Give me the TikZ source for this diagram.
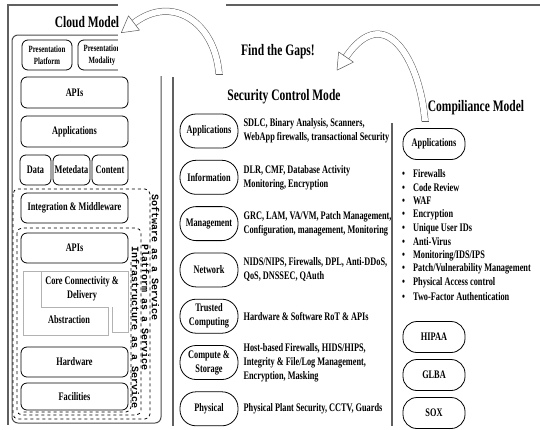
\documentclass[tikz,border=0pt]{standalone}
\usepackage{fontspec}
\setmainfont{Liberation Serif}[FakeStretch=0.72]
\setmonofont{Liberation Mono}
\usetikzlibrary{positioning}

\begin{document}
\begin{tikzpicture}[
  x=1pt, y=-1pt,
  node distance=11.5pt,
  every node/.style={align=center, inner sep=1pt, font=\bfseries\fontsize{11.5}{14}\selectfont},
  heading/.style={font=\bfseries\fontsize{16}{18}\selectfont},
  tier/.style={draw, line width=0.8pt, rounded corners=6pt, minimum width=107pt, minimum height=30pt},
  smalltext/.style={font=\bfseries\fontsize{9.5}{12}\selectfont},
  ctrl/.style={draw, line width=0.8pt, rounded corners=16pt, minimum width=58pt, minimum height=34pt},
  comp/.style={draw, line width=0.8pt, rounded corners=14pt, minimum width=62pt, minimum height=31pt},
  desc/.style={align=left},
  bulletitem/.style={anchor=west, font=\bfseries\fontsize{11.5}{14}\selectfont},
  service/.style={rotate=-90, font=\ttfamily\bfseries\fontsize{10}{12}\selectfont},
  svcbox/.style={dashed, line width=0.8pt, rounded corners=5pt},
  border/.style={draw=gray!75!black, line width=1.3pt},
  greyline/.style={draw=gray!60, line width=0.6pt},
  hollow/.style={draw=gray!70!black, line width=0.5pt, double=white, double distance=6pt},
  arrowhead/.style={draw=gray!70!black, line width=0.5pt, fill=white, line join=round}
]
\useasboundingbox (0,0) rectangle (540,429);

% cloud model
\draw[border] (8,425) -- (8,5) -- (540,5);
\draw[draw=gray!60!black, line width=1pt, rounded corners=6pt] (12,35) rectangle (161,423);
\node[tier, smalltext, minimum width=50pt] (platform) at (47,55) {Presentation\\Platform};
\node[tier, smalltext, minimum width=48pt] (modality) at (102,55) {Presentation\\Modality};
\node[tier, minimum height=31pt] (apis) at (74.5,92.5) {APIs};
\node[tier, minimum height=31pt] (apps) at (74.5,131.5) {Applications};
\node[tier, minimum width=31pt] (data) at (35.5,170) {Data};
\node[tier, minimum width=37pt] (metadata) at (71.5,170) {Metedata};
\node[tier, minimum width=36pt] (content) at (110,170) {Content};
\node[tier] (integration) at (74.5,208) {Integration \& Middleware};
\node[tier] (apis2) at (74.5,248) {APIs};
\draw[greyline] (23,271) -- (41,271) -- (41,307) -- (108,307) -- (108,335) -- (23,335) -- cycle;
\draw[greyline] (41,271) -- (128,271) -- (128,332) -- (112,332) -- (112,307);
\node (core) at (82,289) {Core Connectivity \&\\Delivery};
\node (abstraction) at (69,320) {Abstraction};
\node[tier] (hardware) at (74.5,362) {Hardware};
\node[tier, minimum height=27pt] (facilities) at (74.5,396.5) {Facilities};
\draw[svcbox] (13,189) rectangle (150,419);
\draw[svcbox] (17,228) rectangle (141,415);
\draw[svcbox] (131,262) -- (131,412) -- (21,412);
\node[service] (saas) at (155.5,258) {Software as a Service};
\node[service] (paas) at (145.5,308) {Platform as a Service};
\node[service] (iaas) at (135.5,328) {Infrastructure as a Service};

% security control model
\draw[border] (173,77) -- (173,426);
\draw[border] (392,123) -- (392,426);
\node[ctrl] (sapps) at (209,131) {Applications};
\node[ctrl, below=of sapps] (sinfo) {Information};
\node[ctrl, below=of sinfo] (smgmt) {Management};
\node[ctrl, below=of smgmt] (snet) {Network};
\node[ctrl, below=of snet] (strust) {Trusted\\Computing};
\node[ctrl, below=of strust] (scompute) {Compute \&\\Storage};
\node[ctrl, below=of scompute] (sphys) {Physical};
\node[desc, right=4pt of sapps] (dapps) {SDLC, Binary Analysis, Scanners,\\WebApp firewalls, transactional Security};
\node[desc, right=4pt of sinfo] (dinfo) {DLR, CMF, Database Activity\\Monitoring, Encryption};
\node[desc, right=4pt of smgmt] (dmgmt) {GRC, LAM, VA/VM, Patch Management,\\Configuration, management, Monitoring};
\node[desc, right=4pt of snet] (dnet) {NIDS/NIPS, Firewalls, DPL, Anti-DDoS,\\QoS, DNSSEC, QAuth};
\node[desc, right=4pt of strust] (dtrust) {Hardware \& Software RoT \& APIs};
\node[desc, right=4pt of scompute] (dcompute) {Host-based Firewalls, HIDS/HIPS,\\Integrity \& File/Log Management,\\Encryption, Masking};
\node[desc, right=4pt of sphys] (dphys) {Physical Plant Security, CCTV, Guards};

% compliance model
\node[heading] (comptitle) at (476,108) {Compiliance Model};
\node[comp] (capps) at (434,144) {Applications};
\node[bulletitem] (firewalls) at (401,174) {\textbullet\hspace{8pt}Firewalls};
\node[bulletitem] (review) at (401,187.6) {\textbullet\hspace{8pt}Code Review};
\node[bulletitem] (waf) at (401,201.2) {\textbullet\hspace{8pt}WAF};
\node[bulletitem] (encryption) at (401,214.8) {\textbullet\hspace{8pt}Encryption};
\node[bulletitem] (userids) at (401,228.4) {\textbullet\hspace{8pt}Unique User IDs};
\node[bulletitem] (antivirus) at (401,242) {\textbullet\hspace{8pt}Anti-Virus};
\node[bulletitem] (monitoring) at (401,255.6) {\textbullet\hspace{8pt}Monitoring/IDS/IPS};
\node[bulletitem] (patch) at (401,269.2) {\textbullet\hspace{8pt}Patch/Vulnerability Management};
\node[bulletitem] (access) at (401,282.8) {\textbullet\hspace{8pt}Physical Access control};
\node[bulletitem] (twofactor) at (401,296.4) {\textbullet\hspace{8pt}Two-Factor Authentication};
\node[comp] (hipaa) at (434,337) {HIPAA};
\node[comp, below=6.2pt of hipaa] (glba) {GLBA};
\node[comp, below=6.2pt of glba] (sox) {SOX};

% gap arrows
\fill[white] (118,0) rectangle (226,76);
\node[heading] (cloudtitle) at (87,22) {Cloud Model};
\node[heading] (gaps) at (278,52) {Find the Gaps!};
\node[heading] (sectitle) at (284,97) {Security Control Mode};
\coordinate (gapstail) at (219,74);
\coordinate (gapsend) at (134,23);
\draw[hollow] (gapstail) .. controls (215,22) and (172,-6) .. (gapsend);
\draw[arrowhead] (139.5,30.2) -- (121.3,32.7) -- (128.5,15.8) -- cycle;
\draw[draw=gray!70!black, line width=0.5pt] (215.5,74) -- (222.5,74);
\coordinate (comptail) at (425,121);
\coordinate (compend) at (346,57);
\draw[hollow] (comptail) .. controls (420,60) and (385,0) .. (compend);
\draw[arrowhead] (353.4,62.1) -- (337,70.2) -- (338.6,51.9) -- cycle;
\draw[draw=gray!70!black, line width=0.5pt] (421.5,121) -- (428.5,121);
\end{tikzpicture}
\end{document}
